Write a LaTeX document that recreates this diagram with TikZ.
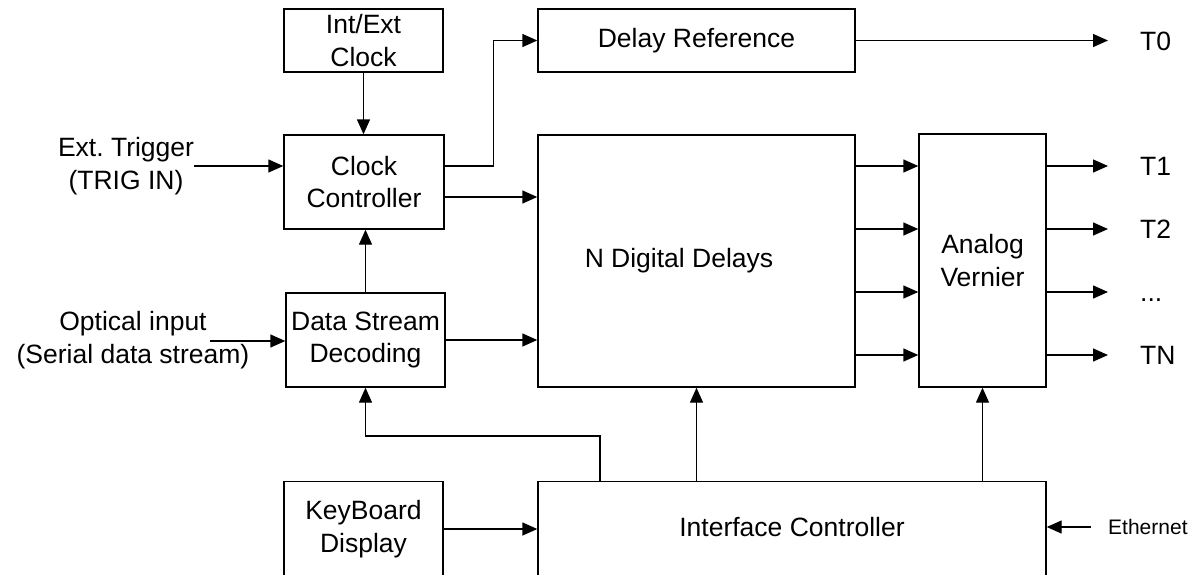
\documentclass[tikz,border=0pt]{standalone}
\usepackage{fontspec}
\setmainfont{Liberation Sans}
\usetikzlibrary{arrows.meta}
\frenchspacing
\begin{document}
\begin{tikzpicture}[x=1pt,y=-1pt,
  every node/.style={inner sep=0pt, font=\fontsize{26.5}{32.5}\selectfont},
  blk/.style={draw, line width=1.4pt, align=center},
  arr/.style={line width=1.4pt, -{Triangle[length=15pt,width=13pt]}},
  tl/.style={anchor=west, text height=19pt, text depth=0pt}
]
\useasboundingbox[fill=white] (0,0) rectangle (1197,574);
\clip (0,0) rectangle (1197,574);
% blocks
\node[blk, minimum width=159pt, minimum height=63pt] (ie) at (363.5,40.5) {Int/Ext\\Clock};
\node[blk, minimum width=160pt, minimum height=94pt] (cc) at (364,182) {Clock\\Controller};
\node[blk, minimum width=159pt, minimum height=94pt] (dsd) at (365.5,340) {Data Stream\\Decoding};
\node[blk, minimum width=317pt, minimum height=63pt] (dr) at (696.5,40.5) {Delay Reference};
\node[blk, minimum width=317pt, minimum height=252pt] (nd) at (696.5,261) {};
\node (ndt) at (679,261) {N Digital Delays};
\node[blk, minimum width=127pt, minimum height=253pt] (av) at (982.5,260.5) {Analog\\Vernier};
\node[blk, anchor=north, minimum width=159pt, minimum height=140pt] (kb) at (363.5,481) {};
\node[align=center] (kbt) at (363.5,529) {KeyBoard\\Display};
\node[blk, anchor=north, minimum width=508pt, minimum height=140pt] (ic) at (792,481) {};
\node (ict) at (792,527) {Interface Controller};
% external labels
\node[align=center] (trig) at (126,166) {Ext. Trigger\\(TRIG IN)};
\node[align=center] (opt) at (133,340) {Optical input\\(Serial data stream)};
\node[font=\fontsize{21}{25}\selectfont, anchor=west] (eth) at (1108,527) {Ethernet};
\node[tl] (t0) at (1140,40.5) {T0};
\node[tl] (t1) at (1140,166) {T1};
\node[tl] (t2) at (1140,229) {T2};
\node[tl] (td) at (1140,292) {...};
\node[tl] (tn) at (1140,355) {TN};
\coordinate (optin) at (210,341);
\coordinate (fb) at (600,436);
\coordinate (ethin) at (1091,527);
% connectors
\draw[arr] (ie.south) -- (ie.south |- cc.north);
\draw[arr] (trig.east) -- (trig.east -| cc.west);
\draw[arr] ([yshift=16pt]cc.east) -- ++(49,0) |- (dr.west);
\draw[arr] ([yshift=-15pt]cc.east) -- ([yshift=-15pt]cc.east -| nd.west);
\draw[arr] (dsd.north) -- (dsd.north |- cc.south);
\draw[arr] (optin) -- (optin -| dsd.west);
\draw[arr] (dsd.east) -- (dsd.east -| nd.west);
\draw[arr] (ic.north -| fb) -- (fb) -| (dsd.south);
\draw[arr] (ic.north -| nd.south) -- (nd.south);
\draw[arr] (ic.north -| av.south) -- (av.south);
\draw[arr] (kbt -| kb.east) -- (kbt -| ic.west);
\draw[arr] (ethin) -- (ethin -| ic.east);
\draw[arr] (dr.east) -- ([xshift=-32pt]t0.west);
\foreach \t in {t1,t2,td,tn}{
  \draw[arr] (nd.east |- \t) -- (av.west |- \t);
  \draw[arr] (av.east |- \t) -- ([xshift=-32pt]\t.west);
}
\end{tikzpicture}
\end{document}
